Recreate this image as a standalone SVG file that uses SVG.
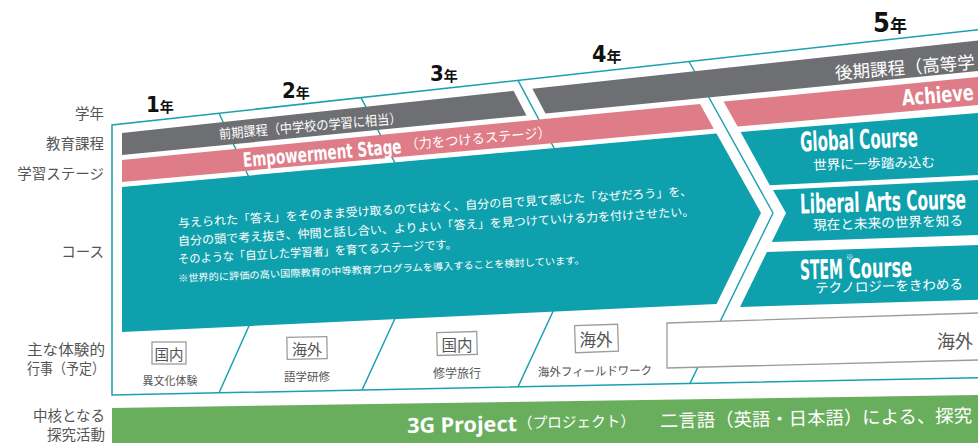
<svg xmlns="http://www.w3.org/2000/svg" width="978" height="443" viewBox="0 0 978 443">
<style>
.jp{font-family:"Noto Sans CJK JP","Noto Sans",sans-serif;dominant-baseline:central}
.lbl{font-family:"Noto Sans CJK JP",sans-serif;font-size:14.5px;fill:#555;text-anchor:end;dominant-baseline:central}
.w{fill:#fff}
.cond{font-family:"Liberation Sans Narrow","DejaVu Sans Condensed",sans-serif;font-weight:bold;dominant-baseline:central}
.div{fill:none;stroke:#1aa0b0;stroke-width:1.4}
.teal{fill:#0fa0ad}
.pink{fill:#de7c87}
.gray{fill:#6e6f72}
.ev{fill:#fff;stroke:#9c9c9c;stroke-width:1.3}
.evt{font-family:"Noto Sans CJK JP",sans-serif;fill:#555;text-anchor:middle;dominant-baseline:central}
.yr{font-family:"Liberation Sans Narrow","DejaVu Sans Condensed",sans-serif;font-weight:bold;fill:#111}
.yrk{font-family:"Noto Sans CJK JP",sans-serif;font-weight:bold;fill:#111}
</style>
<rect x="0" y="0" width="978" height="443" fill="#fff"/>

<g id="row-labels">
  <text class="lbl" x="104" y="112" font-size="14">学年</text>
  <text class="lbl" x="104" y="142">教育課程</text>
  <text class="lbl" x="104" y="172">学習ステージ</text>
  <text class="lbl" x="104" y="250">コース</text>
  <text class="lbl" x="105" y="348" textLength="78" lengthAdjust="spacingAndGlyphs">主な体験的</text>
  <text class="lbl" x="105" y="367" textLength="78" lengthAdjust="spacingAndGlyphs">行事（予定）</text>
  <text class="lbl" x="105" y="414">中核となる</text>
  <text class="lbl" x="105" y="433">探究活動</text>
</g>

<g id="year-labels">
  <text x="146" y="111.5"><tspan class="yr" font-size="22">1</tspan><tspan class="yrk" font-size="14">年</tspan></text>
  <text x="282" y="98"><tspan class="yr" font-size="22">2</tspan><tspan class="yrk" font-size="14">年</tspan></text>
  <text x="430" y="81"><tspan class="yr" font-size="22">3</tspan><tspan class="yrk" font-size="14">年</tspan></text>
  <text x="592" y="62"><tspan class="yr" font-size="23">4</tspan><tspan class="yrk" font-size="15">年</tspan></text>
  <text x="873" y="31.5"><tspan class="yr" font-size="27">5</tspan><tspan class="yrk" font-size="17">年</tspan></text>
</g>

<g id="frame">
  <path d="M990,28.4 L112,125 L112,395 L990,377.4" fill="#fff" stroke="#1aa0b0" stroke-width="1.5"/>
</g>

<g id="connectors">
  <polyline class="div" points="219,113.2 283,250 219,392.9"/>
  <polyline class="div" points="361,97.6 433,236 362,390.1"/>
  <polyline class="div" points="518,80.3 594,223 518,386.9"/>
  <polyline class="div" points="689,61.5 773,213 690,383.4"/>
</g>

<g id="curriculum-early">
  <polygon class="gray" points="122,133 513.5,90.8 526.5,115.4 122,155"/>
  <text class="jp w" x="219" y="133" font-size="13.5" textLength="183" lengthAdjust="spacingAndGlyphs" transform="rotate(-5 219 133)">前期課程（中学校の学習に相当）</text>
</g>

<g id="curriculum-late">
  <polygon class="gray" points="532.4,88.7 990,39.3 990,69.9 545.5,113.5"/>
  <text class="jp w" x="835" y="72" font-size="17.5" transform="rotate(-4.5 835 72)">後期課程（高等学</text>
</g>

<g id="stage-empowerment">
  <polygon class="pink" points="122,160 700,103.9 713.8,128.7 122,182"/>
  <g transform="rotate(-5 243 160)">
    <text class="cond w" x="243" y="160" font-size="20" textLength="159" lengthAdjust="spacingAndGlyphs">Empowerment Stage</text>
    <text class="jp w" x="406" y="158" font-size="13.5" textLength="146" lengthAdjust="spacingAndGlyphs">（力をつけるステージ）</text>
  </g>
</g>

<g id="stage-achievement">
  <polygon class="pink" points="723.6,101.6 990,75.8 990,103.9 737.6,126.6"/>
  <text class="cond w" x="902" y="98" font-size="22" textLength="72" lengthAdjust="spacingAndGlyphs" transform="rotate(-4.4 902 98)">Achieve</text>
</g>

<g id="course-common">
  <polygon class="teal" points="122,187 716.5,133.5 761,213 716.5,304 122,332"/>
  <text class="jp w" x="178" y="222" font-size="12" textLength="515" lengthAdjust="spacingAndGlyphs" transform="rotate(-3.6 178 222)">与えられた「答え」をそのまま受け取るのではなく、自分の目で見て感じた「なぜだろう」を、</text>
  <text class="jp w" x="178" y="240" font-size="12" textLength="517" lengthAdjust="spacingAndGlyphs" transform="rotate(-3.3 178 240)">自分の頭で考え抜き、仲間と話し合い、よりよい「答え」を見つけていける力を付けさせたい。</text>
  <text class="jp w" x="178" y="258" font-size="12" textLength="279" lengthAdjust="spacingAndGlyphs" transform="rotate(-3.1 178 258)">そのような「自立した学習者」を育てるステージです。</text>
  <text class="jp w" x="178" y="278" font-size="9.8" textLength="407" lengthAdjust="spacingAndGlyphs" transform="rotate(-2.6 178 278)">※世界的に評価の高い国際教育の中等教育プログラムを導入することを検討しています。</text>
</g>

<g id="course-global">
  <polygon class="teal" points="740.6,131.9 990,112 990,174.4 769.8,185.2"/>
  <text class="cond w" x="800" y="142" font-size="27" textLength="118" lengthAdjust="spacingAndGlyphs" transform="rotate(-2.5 800 142)">Global Course</text>
  <text class="jp w" x="813" y="164" font-size="13.5" textLength="122" lengthAdjust="spacingAndGlyphs" transform="rotate(-1.5 813 164)">世界に一歩踏み込む</text>
</g>

<g id="course-liberal">
  <polygon class="teal" points="773,190 990,179.4 990,234.6 771.8,242 786,213"/>
  <text class="cond w" x="800" y="204" font-size="27" textLength="166" lengthAdjust="spacingAndGlyphs" transform="rotate(-1.7 800 204)">Liberal Arts Course</text>
  <text class="jp w" x="813" y="224" font-size="13.5" textLength="150" lengthAdjust="spacingAndGlyphs" transform="rotate(-1.8 813 224)">現在と未来の世界を知る</text>
</g>

<g id="course-stem">
  <polygon class="teal" points="766.9,252 990,244.6 990,299.5 740,307"/>
  <g transform="rotate(-1.5 800 270)">
    <text class="cond w" x="800" y="270" font-size="27" textLength="43" lengthAdjust="spacingAndGlyphs">STEM</text>
    <text class="jp w" x="846" y="258" font-size="8">※</text>
    <text class="cond w" x="849" y="270" font-size="27" textLength="63" lengthAdjust="spacingAndGlyphs">Course</text>
  </g>
  <text class="jp w" x="815" y="287" font-size="13.5" textLength="148" lengthAdjust="spacingAndGlyphs" transform="rotate(-1.6 815 287)">テクノロジーをきわめる</text>
</g>

<g id="event-y1">
  <rect class="ev" x="152" y="342" width="34" height="22"/>
  <text class="evt" x="169" y="353" font-size="14.5">国内</text>
  <text class="evt" x="170" y="380" font-size="11">異文化体験</text>
</g>
<g id="event-y2">
  <rect class="ev" x="287" y="337" width="40" height="22" transform="rotate(-1 307 348)"/>
  <text class="evt" x="307" y="348" font-size="15">海外</text>
  <text class="evt" x="307" y="376" font-size="11.5">語学研修</text>
</g>
<g id="event-y3">
  <rect class="ev" x="437" y="332" width="40" height="23" transform="rotate(-1.5 457 343)"/>
  <text class="evt" x="457" y="344" font-size="15.5">国内</text>
  <text class="evt" x="457" y="372" font-size="12">修学旅行</text>
</g>
<g id="event-y4">
  <rect class="ev" x="575" y="325" width="43" height="27" transform="rotate(-2 596 338)"/>
  <text class="evt" x="596" y="339" font-size="16.5">海外</text>
  <text class="evt" x="595" y="370" font-size="12" textLength="114" lengthAdjust="spacingAndGlyphs" transform="rotate(-1 595 370)">海外フィールドワーク</text>
</g>
<g id="event-y5">
  <polygon class="ev" points="667,323 990,312.6 990,359.7 667,368"/>
  <text class="jp" x="937" y="340" font-size="18" fill="#555">海外</text>
</g>

<g id="inquiry-bar">
  <polygon fill="#69ae5d" points="112,408 990,394.8 990,443 112,443"/>
  <g transform="rotate(-1 407 425)">
    <text x="407" y="425" font-family="'Noto Sans','Open Sans',sans-serif" font-weight="bold" font-size="21" fill="#fff" dominant-baseline="central" textLength="110" lengthAdjust="spacingAndGlyphs">3G Project</text>
    <text class="jp w" x="518" y="424" font-size="15" textLength="117" lengthAdjust="spacingAndGlyphs">（プロジェクト）</text>
    <text class="jp w" x="660" y="424" font-size="18.4">二言語（英語・日本語）による、探究</text>
  </g>
</g>
</svg>
